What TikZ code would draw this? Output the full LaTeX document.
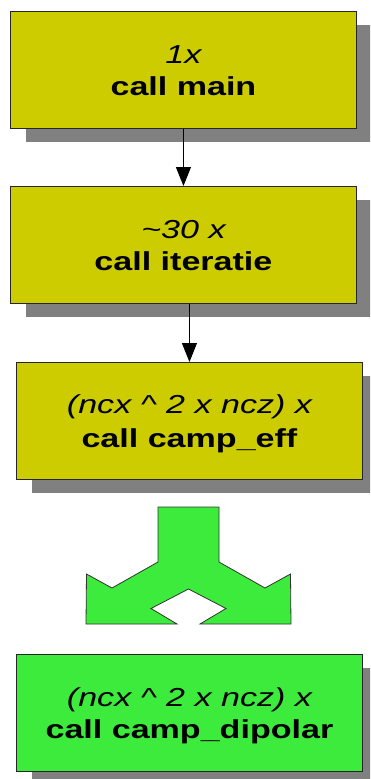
\documentclass[tikz,border=0pt]{standalone}
\usepackage{fontspec}
\setmainfont{Liberation Sans}
\usetikzlibrary{arrows.meta}
\definecolor{boxyellow}{RGB}{204,204,0}
\definecolor{boxgreen}{RGB}{61,235,61}
\definecolor{shadowgray}{RGB}{128,128,128}
\newcommand{\wide}[1]{\scalebox{1.31}[1]{#1}}
\tikzset{
  callbox/.style={draw=black!85, line width=0.9pt, rectangle, minimum width=346pt, minimum height=117pt, inner sep=0pt, anchor=north west},
  boxshadow/.style={fill=shadowgray, draw=none},
  countline/.style={anchor=base, inner sep=0pt, font=\fontsize{26}{30}\selectfont\itshape},
  nameline/.style={anchor=base, inner sep=0pt, font=\fontsize{26}{30}\selectfont\bfseries},
  flow/.style={draw=black, line width=0.9pt, -{Triangle[width=15pt,length=19pt]}},
  splitarrow/.style={fill=boxgreen, draw=black!80, line width=0.8pt, line join=miter}
}
\begin{document}
\begin{tikzpicture}[x=1pt, y=-1pt]
  \useasboundingbox (0,0) rectangle (370,779);
  \clip (0,0) rectangle (370,779);

  % drop shadows behind the call boxes
  \fill[boxshadow] (26,25) rectangle (380,142);
  \fill[boxshadow] (26,200) rectangle (380,317);
  \fill[boxshadow] (32,376) rectangle (380,493);
  \fill[boxshadow] (32,668) rectangle (380,790);

  % call boxes
  \node[callbox, fill=boxyellow] (main) at (10,11) {};
  \node[callbox, fill=boxyellow] (iter) at (10,186) {};
  \node[callbox, fill=boxyellow] (eff)  at (16,362) {};
  \node[callbox, fill=boxgreen]  (dip)  at (16,654) {};

  % box labels
  \node[countline] (mainA) at ([yshift=-52pt]main.north) {\wide{1x}};
  \node[nameline]  (mainB) at ([yshift=-84.5pt]main.north) {\wide{call main}};
  \node[countline] (iterA) at ([yshift=-52pt]iter.north) {\wide{\textasciitilde30 x}};
  \node[nameline]  (iterB) at ([yshift=-84.5pt]iter.north) {\wide{call iteratie}};
  \node[countline] (effA)  at ([yshift=-51.5pt]eff.north) {\wide{(ncx \textasciicircum\ 2 x ncz) x}};
  \node[nameline]  (effB)  at ([yshift=-85pt]eff.north) {\wide{call camp\_eff}};
  \node[countline] (dipA)  at ([yshift=-52pt]dip.north) {\wide{(ncx \textasciicircum\ 2 x ncz) x}};
  \node[nameline]  (dipB)  at ([yshift=-84.5pt]dip.north) {\wide{call camp\_dipolar}};

  % call flow
  \draw[flow] (main.south) -- (iter.north);
  \draw[flow] (iter.south -| eff.north) -- (eff.north);

  % split arrow between camp_eff and camp_dipolar
  \draw[splitarrow]
    (158,507) -- (219,507) -- (219,562) -- (265,588) -- (290.5,574)
    -- (291,624) -- (200,624) -- (226,608.5) -- (188.5,589)
    -- (151,608.5) -- (177,624) -- (86,624) -- (86.5,574)
    -- (112,588) -- (158,562) -- cycle;
\end{tikzpicture}
\end{document}
